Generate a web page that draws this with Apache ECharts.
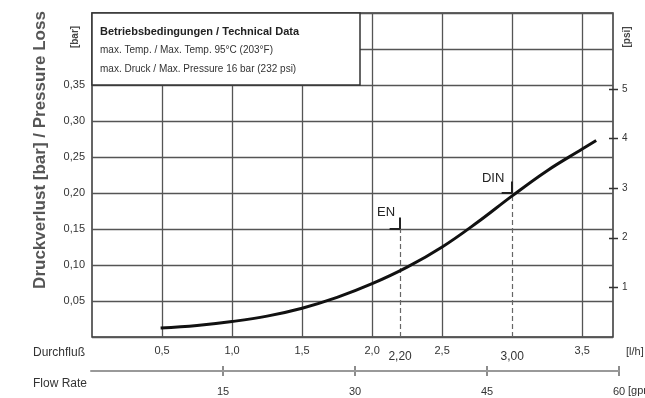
<!DOCTYPE html>
<html>
<head>
    <meta charset="utf-8"/>
    <script src="https://cdn.jsdelivr.net/npm/echarts@6/dist/echarts.min.js"></script>
    <style>
        html, body { margin: 0; padding: 0; background: #fff; }
    </style>
</head>
<body>
<div id="main" style="width: 645px;height:398px;"></div>
<script type="text/javascript">
    // Durchfluss [m3/h] und Druckverlust [bar]
    var flowM3h = [0.49, 0.75, 1.0, 1.25, 1.5, 1.75, 2.0, 2.25, 2.5, 2.75, 3.0, 3.25, 3.5, 3.6];
    var lossBar = [0.0125, 0.016, 0.0215, 0.029, 0.040, 0.055, 0.074, 0.097, 0.125, 0.159, 0.196, 0.231, 0.261, 0.273];

    // Achsen
    var barTicks = [0.05, 0.10, 0.15, 0.20, 0.25, 0.30, 0.35];
    var psiTicks = [1, 2, 3, 4, 5];
    var flowTicks = [0.5, 1.0, 1.5, 2.0, 2.5, 3.5];
    var flowRateTicks = [15, 30, 45, 60];
    var gridX = [0.5, 1.0, 1.5, 2.0, 2.5, 3.5];

    // EN / DIN Markierungen
    var markNames = ['EN', 'DIN'];
    var markFlow = [2.2, 3.0];
    var markLevel = [0.15, 0.20];

    var BAR_TO_PSI = 14.5038;
    var X_MAX = 3.72;
    var Y_MAX = 0.45;

    var myChart = echarts.init(document.getElementById('main'));

    var gridColor = '#555';
    var textColor = '#333';

    var comma = function (v, d) {
        return v.toFixed(d).replace('.', ',');
    };

    // Gitterlinien (senkrecht) und Markierungslinien
    var lines = [];
    gridX.forEach(function (x) {
        lines.push([{coord: [x, 0]}, {coord: [x, Y_MAX]}]);
    });
    // 3,0 Linie: oberhalb DIN durchgezogen
    lines.push([{coord: [markFlow[1], markLevel[1]]}, {coord: [markFlow[1], Y_MAX]}]);
    markFlow.forEach(function (x, i) {
        lines.push([
            {coord: [x, 0], lineStyle: {type: [5, 3], color: '#666', width: 1.2}},
            {coord: [x, markLevel[i]]}
        ]);
    });
    markFlow.forEach(function (x, i) {
        var bracket = {color: '#222', width: 2, type: 'solid'};
        lines.push([{coord: [x, markLevel[i]], lineStyle: bracket}, {coord: [x, markLevel[i] + 0.016]}]);
        lines.push([{coord: [x, markLevel[i]], lineStyle: bracket}, {coord: [x - 0.075, markLevel[i]]}]);
    });

    var curveData = flowM3h.map(function (q, i) {
        return [q, lossBar[i]];
    });

    var option = {
        backgroundColor: '#fff',
        animation: false,
        grid: [{
            left: 92,
            right: 32,
            top: 13,
            bottom: 61,
            show: true,
            borderColor: '#333',
            borderWidth: 1.5
        }, {
            left: 91,
            right: 26,
            top: 366,
            height: 10
        }],
        xAxis: [{
            type: 'value',
            gridIndex: 0,
            min: 0,
            max: X_MAX,
            interval: 0.5,
            axisLine: {show: false},
            axisTick: {show: false},
            splitLine: {show: false},
            axisLabel: {
                customValues: flowTicks,
                margin: 8,
                fontSize: 11,
                color: textColor,
                fontFamily: 'Liberation Sans',
                formatter: function (v) {
                    return comma(v, 1);
                }
            }
        }, {
            type: 'value',
            gridIndex: 0,
            position: 'bottom',
            min: 0,
            max: X_MAX,
            axisLine: {show: false},
            axisTick: {show: false},
            splitLine: {show: false},
            axisLabel: {
                customValues: markFlow,
                margin: 14,
                fontSize: 12,
                color: textColor,
                fontFamily: 'Liberation Sans',
                formatter: function (v) {
                    return comma(v, 2);
                }
            }
        }, {
            // Flow Rate Skala
            type: 'value',
            gridIndex: 1,
            min: 0,
            max: 60,
            interval: 15,
            axisLine: {onZero: true, lineStyle: {color: '#999', width: 2}},
            axisTick: {show: false, customValues: flowRateTicks},
            splitLine: {show: true, lineStyle: {color: '#666', width: 1.5}},
            axisLabel: {
                customValues: flowRateTicks,
                margin: 10,
                fontSize: 11,
                color: textColor,
                fontFamily: 'Liberation Sans'
            }
        }],
        yAxis: [{
            type: 'value',
            gridIndex: 0,
            min: 0,
            max: Y_MAX,
            interval: 0.05,
            axisLine: {show: false},
            axisTick: {show: false},
            splitLine: {lineStyle: {color: gridColor, width: 1.3}},
            axisLabel: {
                customValues: barTicks,
                margin: 7,
                fontSize: 11,
                color: textColor,
                fontFamily: 'Liberation Sans',
                formatter: function (v) {
                    return comma(v, 2);
                }
            }
        }, {
            type: 'value',
            gridIndex: 0,
            position: 'right',
            min: 0,
            max: Y_MAX * BAR_TO_PSI,
            interval: 1,
            axisLine: {show: false},
            axisTick: {show: false},
            splitLine: {show: false},
            axisLabel: {
                customValues: psiTicks,
                margin: 9,
                fontSize: 10,
                color: textColor,
                fontFamily: 'Liberation Sans'
            }
        }, {
            type: 'value',
            gridIndex: 1,
            min: -1,
            max: 1,
            show: false
        }],
        graphic: [{
            type: 'rect',
            shape: {x: 92, y: 13, width: 268, height: 72},
            style: {fill: '#fff', stroke: '#333', lineWidth: 1.5},
            z: 100
        }, {
            type: 'text',
            x: 100, y: 32,
            style: {text: 'Betriebsbedingungen / Technical Data', font: 'bold 11px "Liberation Sans"', fill: '#222', verticalAlign: 'middle'},
            z: 101
        }, {
            type: 'text',
            x: 100, y: 50,
            style: {text: 'max. Temp. / Max. Temp. 95°C (203°F)', font: '10px "Liberation Sans"', fill: '#333', verticalAlign: 'middle'},
            z: 101
        }, {
            type: 'text',
            x: 100, y: 69,
            style: {text: 'max. Druck / Max. Pressure 16 bar (232 psi)', font: '10px "Liberation Sans"', fill: '#333', verticalAlign: 'middle'},
            z: 101
        }, {
            type: 'text',
            x: 40, y: 150,
            rotation: Math.PI / 2,
            style: {text: 'Druckverlust [bar] / Pressure Loss', font: 'bold 17px "Liberation Sans"', fill: '#555', align: 'center', verticalAlign: 'middle'}
        }, {
            type: 'text',
            x: 75, y: 37,
            rotation: Math.PI / 2,
            style: {text: '[bar]', font: 'bold 10px "Liberation Sans"', fill: '#444', align: 'center', verticalAlign: 'middle'}
        }, {
            type: 'text',
            x: 627, y: 37,
            rotation: Math.PI / 2,
            style: {text: '[psi]', font: 'bold 10px "Liberation Sans"', fill: '#444', align: 'center', verticalAlign: 'middle'}
        }, {
            type: 'text',
            x: 33, y: 353,
            style: {text: 'Durchfluß', font: '12px "Liberation Sans"', fill: '#333', verticalAlign: 'middle'}
        }, {
            type: 'text',
            x: 33, y: 384,
            style: {text: 'Flow Rate', font: '12px "Liberation Sans"', fill: '#333', verticalAlign: 'middle'}
        }, {
            type: 'text',
            x: 626, y: 352,
            style: {text: '[l/h]', font: '11px "Liberation Sans"', fill: '#333', verticalAlign: 'middle'}
        }, {
            type: 'text',
            x: 628, y: 391,
            style: {text: '[gpm]', font: '11px "Liberation Sans"', fill: '#333', verticalAlign: 'middle'}
        }],
        series: [{
            // Gitter + Markierungslinien (unsichtbare Traegerserie)
            type: 'line',
            xAxisIndex: 0,
            yAxisIndex: 0,
            data: curveData,
            symbol: 'none',
            lineStyle: {opacity: 0},
            z: 1,
            markLine: {
                silent: true,
                symbol: ['none', 'none'],
                label: {show: false},
                lineStyle: {color: gridColor, width: 1.3, type: 'solid'},
                data: lines
            }
        }, {
            type: 'line',
            xAxisIndex: 0,
            yAxisIndex: 0,
            smooth: 0.4,
            symbol: 'none',
            z: 5,
            lineStyle: {color: '#111', width: 3},
            data: curveData,
            markPoint: {
                silent: true,
                symbol: 'circle',
                symbolSize: 1,
                itemStyle: {color: 'rgba(0,0,0,0)'},
                label: {
                    show: true,
                    position: 'inside',
                    formatter: '{b}',
                    fontSize: 13,
                    color: '#222',
                    fontFamily: 'Liberation Sans'
                },
                data: markNames.map(function (n, i) {
                    return {
                        name: n,
                        coord: [markFlow[i], markLevel[i]],
                        label: {offset: i === 0 ? [-14, -17] : [-19, -15]}
                    };
                })
            }
        }]
    };

    myChart.setOption(option);

    // psi Striche ueber den rechten Rand, Lage aus der psi Achse
    var xRight = myChart.convertToPixel({xAxisIndex: 0}, X_MAX);
    var psiMarks = psiTicks.map(function (p) {
        var y = Math.round(myChart.convertToPixel({yAxisIndex: 1}, p)) + 0.5;
        return {
            type: 'line',
            shape: {x1: xRight - 4, y1: y, x2: xRight + 5, y2: y},
            style: {stroke: '#333', lineWidth: 1.5},
            z: 50
        };
    });
    myChart.setOption({graphic: option.graphic.concat(psiMarks)});
</script>
</body>
</html>
